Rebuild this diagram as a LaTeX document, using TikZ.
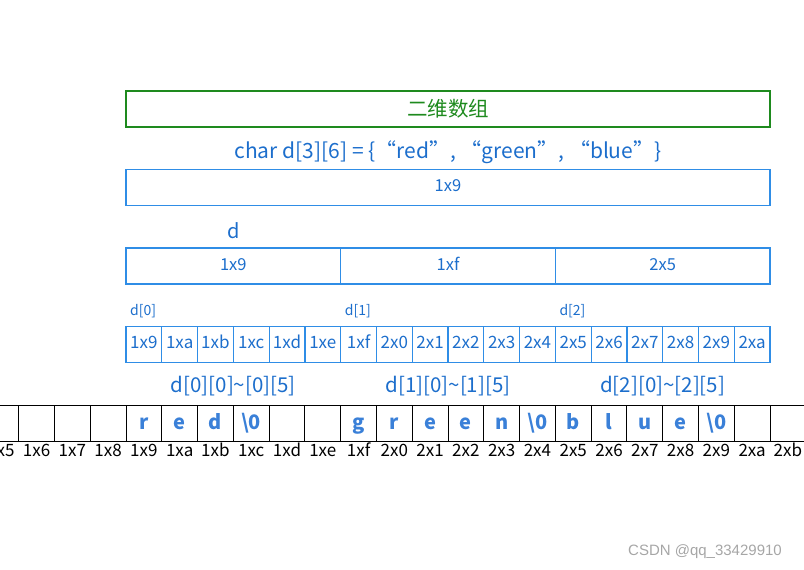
\documentclass[tikz,border=0pt]{standalone}
\usepackage{fontspec}
\setmainfont{Noto Sans CJK SC}
\newfontfamily\csdnfont{Liberation Sans}
\definecolor{arrgreen}{HTML}{1E8A1E}
\definecolor{arrblue}{HTML}{1C6ECC}
\definecolor{lineblue}{HTML}{2F8DE6}
\definecolor{charblue}{HTML}{3A80D8}

\begin{document}
\begin{tikzpicture}[x=1pt,y=-1pt,
  greenbox/.style={draw=arrgreen, line width=1.3pt, minimum width=644pt, minimum height=36pt, inner sep=0pt, text=arrgreen, font=\fontsize{20.5}{20.5}\selectfont},
  bluebox/.style={draw=lineblue, line width=1.2pt, minimum height=36pt, inner sep=0pt, text=arrblue, text height=11pt, text depth=3pt, font=\fontsize{16.5}{16.5}\selectfont},
  cellbox/.style={bluebox, minimum width=35.78pt, font=\fontsize{17}{17}\selectfont},
  memcell/.style={draw=black, line width=0.9pt, minimum width=35.78pt, minimum height=36pt, inner sep=0pt},
  letter/.style={text=charblue, text height=13pt, text depth=1pt, inner sep=0pt, font=\fontsize{20}{20}\selectfont\bfseries},
  addr/.style={inner sep=0pt, text height=11pt, text depth=3pt, font=\fontsize{17}{17}\selectfont},
  bluetext/.style={text=arrblue, inner sep=0pt}]
\path[use as bounding box] (0,0) rectangle (804,570);
\clip (0,0) rectangle (804,570);
% header
\node [greenbox] (title) at (448,109) {二维数组};
\node [bluetext, font=\fontsize{21}{21}\selectfont] (decl) at (448,152) {char d[3][6] = \{“red”, “green”, “blue”\}};
\node [bluebox, minimum width=644pt] (ptr) at (448,187.5) {1x9};
\node [bluetext, font=\fontsize{20}{20}\selectfont] (dname) at (234,231) {d};
% d[0] d[1] d[2]
\foreach \lab [count=\i from 0] in {1x9,1xf,2x5} {
  \node [bluebox, minimum width=214.67pt] (row\i) at (233.33+214.67*\i,266) {\lab};
  \node [bluetext, anchor=west, font=\fontsize{14}{14}\selectfont] (rowname\i) at (130+214.67*\i,311) {d[\i]};
  \node [bluetext, font=\fontsize{20.5}{20.5}\selectfont] (range\i) at (233.33+214.67*\i,386) {d[\i][0]\textasciitilde[\i][5]};
}
% the 18 elements
\foreach \lab [count=\i from 0] in {1x9,1xa,1xb,1xc,1xd,1xe,1xf,2x0,2x1,2x2,2x3,2x4,2x5,2x6,2x7,2x8,2x9,2xa} {
  \node [cellbox] (c\i) at (126+35.78*\i+17.89,344.5) {\lab};
}
% memory
\foreach \lab [count=\i from 0] in {1x5,1x6,1x7,1x8,1x9,1xa,1xb,1xc,1xd,1xe,1xf,2x0,2x1,2x2,2x3,2x4,2x5,2x6,2x7,2x8,2x9,2xa,2xb} {
  \node [memcell] (m\i) at (-17.12+35.78*\i+17.89,423) {};
  \node [addr] (addr\i) at (-17.12+35.78*\i+17.89,452) {\lab};
}
\foreach \i/\ch in {4/r,5/e,6/d,7/\textbackslash0,10/g,11/r,12/e,13/e,14/n,15/\textbackslash0,16/b,17/l,18/u,19/e,20/\textbackslash0} {
  \node [letter] (ch\i) at (m\i.center) {\ch};
}
\node [text=black!35, font=\csdnfont\fontsize{15}{15}\selectfont] (mark) at (705,552) {CSDN @qq\_33429910};
\end{tikzpicture}
\end{document}
